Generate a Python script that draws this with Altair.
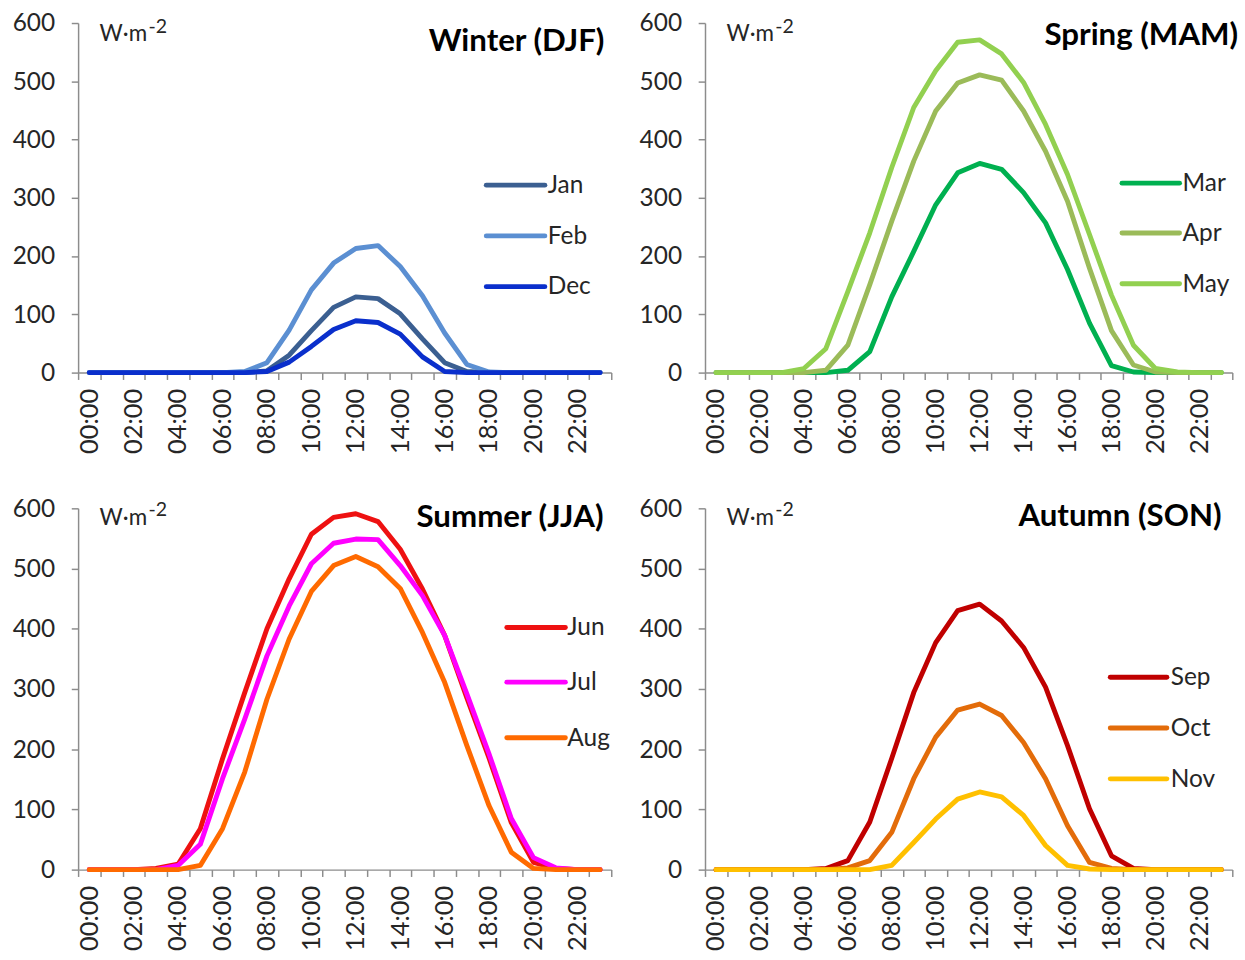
import json
import altair as alt
import pandas as pd

# ---------------- data ----------------
hour_labels = ["00:00", "01:00", "02:00", "03:00", "04:00", "05:00", "06:00", "07:00",
               "08:00", "09:00", "10:00", "11:00", "12:00", "13:00", "14:00", "15:00",
               "16:00", "17:00", "18:00", "19:00", "20:00", "21:00", "22:00", "23:00"]
y_ticks = [0, 100, 200, 300, 400, 500, 600]

jan = [0, 0, 0, 0, 0, 0, 0, 0, 3, 30, 72, 112, 130, 127, 101, 58, 17, 2, 0, 0, 0, 0, 0, 0]
feb = [0, 0, 0, 0, 0, 0, 0, 2, 17, 73, 142, 188, 213, 218, 182, 132, 68, 14, 1, 0, 0, 0, 0, 0]
dec = [0, 0, 0, 0, 0, 0, 0, 0, 2, 18, 45, 74, 89, 86, 66, 27, 2, 0, 0, 0, 0, 0, 0, 0]

mar = [0, 0, 0, 0, 0, 0, 4, 36, 130, 208, 288, 343, 359, 349, 309, 257, 177, 85, 12, 1, 0, 0, 0, 0]
apr = [0, 0, 0, 0, 0, 4, 47, 151, 260, 363, 449, 497, 511, 502, 449, 380, 294, 179, 72, 13, 1, 0, 0, 0]
may = [0, 0, 0, 0, 7, 41, 139, 240, 352, 455, 518, 567, 571, 547, 498, 426, 340, 237, 133, 47, 7, 1, 0, 0]

jun = [0, 0, 0, 2, 9, 68, 184, 294, 400, 483, 557, 585, 591, 578, 532, 466, 389, 285, 185, 78, 12, 2, 0, 0]
jul = [0, 0, 0, 0, 7, 42, 151, 250, 355, 438, 508, 542, 549, 548, 505, 455, 389, 292, 192, 85, 20, 3, 0, 0]
aug = [0, 0, 0, 0, 0, 7, 68, 162, 283, 383, 462, 505, 520, 503, 467, 394, 311, 206, 106, 29, 2, 0, 0, 0]

sep = [0, 0, 0, 0, 0, 2, 15, 79, 185, 294, 377, 430, 441, 413, 369, 303, 206, 101, 23, 2, 0, 0, 0, 0]
oct_ = [0, 0, 0, 0, 0, 0, 3, 15, 62, 151, 220, 265, 275, 256, 211, 151, 73, 12, 2, 0, 0, 0, 0, 0]
nov = [0, 0, 0, 0, 0, 0, 0, 0, 7, 45, 84, 117, 129, 121, 90, 40, 7, 1, 0, 0, 0, 0, 0, 0]

season_titles = ["Winter (DJF)", "Spring (MAM)", "Summer (JJA)", "Autumn (SON)"]
season_months = [["Jan", "Feb", "Dec"], ["Mar", "Apr", "May"],
                 ["Jun", "Jul", "Aug"], ["Sep", "Oct", "Nov"]]
season_series = [[jan, feb, dec], [mar, apr, may], [jun, jul, aug], [sep, oct_, nov]]

month_colors = {
    "Jan": "#3b5f91", "Feb": "#5b8fd2", "Dec": "#0a2fcc",
    "Mar": "#00b050", "Apr": "#9bbb59", "May": "#92d050",
    "Jun": "#ee1111", "Jul": "#ff00ff", "Aug": "#ff6a00",
    "Sep": "#c00000", "Oct": "#e36c0a", "Nov": "#ffc000",
}

# ---------------- style ----------------
FONT = "Lato"
TXT = "#262626"
AXIS_GREY = "#8c8c8c"
WIDTHS = [546, 540, 546, 540]
HEIGHTS = [358, 358, 370, 370]

# per-panel layout (plot-relative pixel positions)
title_pos = [(539, 19), (546, 12), (538, 9), (529, 8)]
unit_pos = [(18, 10), (18, 10), (17, 8), (17, 8)]  # baselines of "W·m" and superscript
legend_pos = [  # line x0, line x1, label x, rows y
    (418, 478, 481, [166, 218, 270]),
    (427, 486, 489, [164, 215, 267]),
    (439, 499, 501, [122, 178, 235]),
    (415, 473, 477, [173, 225, 277]),
]

all_months = list(month_colors.keys())
all_colors = [month_colors[m] for m in all_months]

hours_js = json.dumps(hour_labels)
x_values = [i - 0.5 for i in range(25)] + list(range(0, 24, 2))
label_expr = (
    f"datum.value == floor(datum.value) && datum.value % 2 == 0 ? "
    f"{hours_js}[datum.value] : ''"
)

dummy = alt.Data(values=[{"k": 0}])


def panel(i):
    rows = []
    for m, s in zip(season_months[i], season_series[i]):
        for h, v in enumerate(s):
            rows.append({"hour": h, "value": v, "month": m})
    df = pd.DataFrame(rows)

    lines = alt.Chart(df).mark_line(
        strokeWidth=5, strokeCap="round", strokeJoin="round"
    ).encode(
        x=alt.X("hour:Q",
                scale=alt.Scale(domain=[-0.5, 23.5], nice=False, zero=False),
                axis=alt.Axis(
                    values=x_values,
                    labelExpr=label_expr,
                    labelAngle=-90,
                    labelOverlap=False,
                    labelFlush=False,
                    tickOpacity={"condition": {"test": "datum.value != floor(datum.value)", "value": 1}, "value": 0},
                    title=None,
                )),
        y=alt.Y("value:Q",
                scale=alt.Scale(domain=[0, 600], nice=False),
                axis=alt.Axis(values=y_ticks, title=None)),
        color=alt.Color("month:N",
                        scale=alt.Scale(domain=all_months, range=all_colors),
                        legend=None),
        detail="month:N",
    )

    layers = [lines]

    # unit annotation W·m-2
    ub, sb = unit_pos[i]
    layers.append(alt.Chart(dummy).mark_text(
        text="W·m", font=FONT, fontSize=23, color=TXT, align="left", baseline="alphabetic"
    ).encode(x=alt.value(22), y=alt.value(ub)))
    layers.append(alt.Chart(dummy).mark_text(
        text="-2", font=FONT, fontSize=20, color=TXT, align="left", baseline="alphabetic"
    ).encode(x=alt.value(72), y=alt.value(sb)))

    # season title
    tx, ty = title_pos[i]
    layers.append(alt.Chart(dummy).mark_text(
        text=season_titles[i], font=FONT, fontSize=32, fontWeight="bold", color="#000000",
        align="right", baseline="middle"
    ).encode(x=alt.value(tx), y=alt.value(ty)))

    # legend
    x0, x1, xl, ys = legend_pos[i]
    for m, yy in zip(season_months[i], ys):
        layers.append(alt.Chart(dummy).mark_rule(
            strokeWidth=5, strokeCap="round", color=month_colors[m]
        ).encode(x=alt.value(x0), x2=alt.value(x1), y=alt.value(yy)))
        layers.append(alt.Chart(dummy).mark_text(
            text=m, font=FONT, fontSize=25, color=TXT, align="left", baseline="middle"
        ).encode(x=alt.value(xl), y=alt.value(yy)))

    return alt.layer(*layers).properties(width=WIDTHS[i], height=HEIGHTS[i])


top = alt.hconcat(panel(0), panel(1), spacing=15)
bottom = alt.hconcat(panel(2), panel(3), spacing=15)

chart = alt.vconcat(top, bottom, spacing=44).properties(
    padding={"left": 12, "top": 0, "right": 0, "bottom": 0},
    background="white",
).configure_view(
    stroke=None
).configure_axis(
    grid=False,
    domainColor=AXIS_GREY,
    domainWidth=1.5,
    tickColor=AXIS_GREY,
    tickWidth=1.5,
    tickSize=7,
    labelFont=FONT,
    labelColor=TXT,
).configure_axisX(
    labelFontSize=26,
    labelPadding=9,
).configure_axisY(
    labelFontSize=25,
    labelPadding=17,
)

chart.save("out.html", embed_options={"renderer": "svg", "actions": False})
